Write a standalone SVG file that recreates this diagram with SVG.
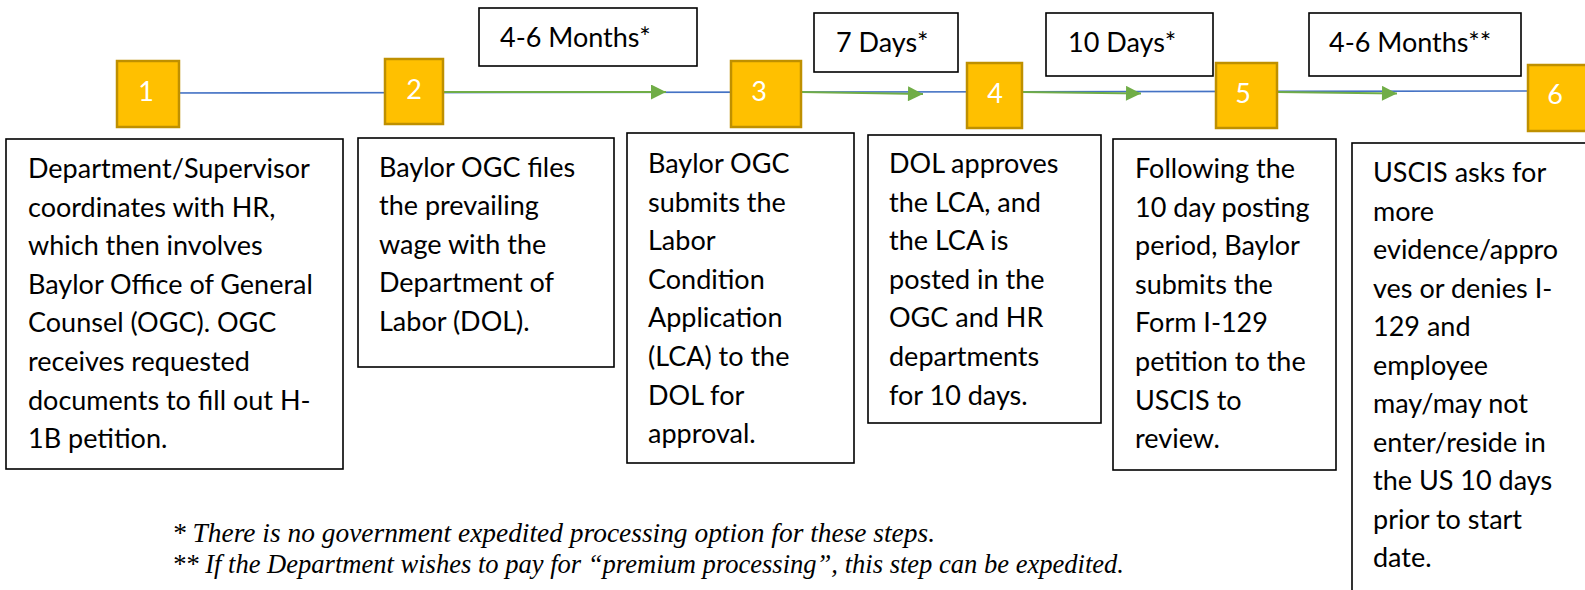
<svg xmlns="http://www.w3.org/2000/svg" width="1585" height="590" viewBox="0 0 1585 590">
<style>
.num{fill:#FFC000;stroke:#BF9000;stroke-width:2.5}
.numt{font-family:Lato,"Liberation Sans",sans-serif;font-size:27px;fill:#FFFFFF;text-anchor:middle}
.box{fill:#FFFFFF;stroke:#000000;stroke-width:1.6}
.t{font-family:Lato,"Liberation Sans",sans-serif;font-size:27px;fill:#000000}
.blue{stroke:#4472C4;stroke-width:1.6;fill:none}
.green{stroke:#70AD47;stroke-width:1.8;fill:none}
.note{font-family:"Liberation Serif",serif;font-style:italic;font-size:27px;fill:#000000}
</style>
<defs>
<marker id="ah" viewBox="0 0 16 16" refX="16" refY="8" markerWidth="16" markerHeight="15" markerUnits="userSpaceOnUse" orient="auto">
<path d="M0,0 L16,8 L0,16 z" fill="#70AD47"/>
</marker>
</defs>
<rect width="1585" height="590" fill="#FFFFFF"/>
<g id="connectors">
<line class="blue" x1="148" y1="93" x2="1555" y2="91"/>
<line class="green" x1="443" y1="92" x2="666" y2="92" marker-end="url(#ah)"/>
<line class="green" x1="801" y1="92" x2="923" y2="94" marker-end="url(#ah)"/>
<line class="green" x1="1022" y1="92" x2="1141" y2="93.5" marker-end="url(#ah)"/>
<line class="green" x1="1277" y1="92" x2="1397" y2="93.5" marker-end="url(#ah)"/>
</g>
<g id="label1"><rect class="box" x="479" y="8" width="218" height="58"/><text class="t" x="500" y="47">4-6 Months*</text></g>
<g id="label2"><rect class="box" x="814" y="13" width="144" height="59"/><text class="t" x="836" y="52">7 Days*</text></g>
<g id="label3"><rect class="box" x="1046" y="13" width="167" height="63"/><text class="t" x="1068" y="52">10 Days*</text></g>
<g id="label4"><rect class="box" x="1309" y="13" width="212" height="63"/><text class="t" x="1329" y="52">4-6 Months**</text></g>
<g id="step1"><rect class="num" x="117" y="61" width="62" height="66"/><text class="numt" x="146" y="101">1</text></g>
<g id="step2"><rect class="num" x="385" y="59" width="58" height="65"/><text class="numt" x="414" y="99">2</text></g>
<g id="step3"><rect class="num" x="731" y="61" width="70" height="66"/><text class="numt" x="759" y="101">3</text></g>
<g id="step4"><rect class="num" x="967" y="63" width="55" height="65"/><text class="numt" x="995" y="103">4</text></g>
<g id="step5"><rect class="num" x="1216" y="63" width="61" height="65"/><text class="numt" x="1243" y="103">5</text></g>
<g id="step6"><rect class="num" x="1528" y="65" width="62" height="66"/><text class="numt" x="1555" y="104">6</text></g>
<g id="desc1"><rect class="box" x="6" y="139" width="337" height="330"/>
<text class="t"><tspan x="28" y="178">Department/Supervisor</tspan><tspan x="28" y="216.6">coordinates with HR,</tspan><tspan x="28" y="255.2">which then involves</tspan><tspan x="28" y="293.8">Baylor Office of General</tspan><tspan x="28" y="332.4">Counsel (OGC). OGC</tspan><tspan x="28" y="371">receives requested</tspan><tspan x="28" y="409.6">documents to fill out H-</tspan><tspan x="28" y="448.2">1B petition.</tspan></text></g>
<g id="desc2"><rect class="box" x="358" y="138" width="256" height="229"/>
<text class="t"><tspan x="379" y="176.5">Baylor OGC files</tspan><tspan x="379" y="215.1">the prevailing</tspan><tspan x="379" y="253.7">wage with the</tspan><tspan x="379" y="292.3">Department of</tspan><tspan x="379" y="330.9">Labor (DOL).</tspan></text></g>
<g id="desc3"><rect class="box" x="627" y="133" width="227" height="330"/>
<text class="t"><tspan x="648" y="173">Baylor OGC</tspan><tspan x="648" y="211.6">submits the</tspan><tspan x="648" y="250.2">Labor</tspan><tspan x="648" y="288.8">Condition</tspan><tspan x="648" y="327.4">Application</tspan><tspan x="648" y="366">(LCA) to the</tspan><tspan x="648" y="404.6">DOL for</tspan><tspan x="648" y="443.2">approval.</tspan></text></g>
<g id="desc4"><rect class="box" x="868" y="135" width="233" height="288"/>
<text class="t"><tspan x="889" y="173">DOL approves</tspan><tspan x="889" y="211.6">the LCA, and</tspan><tspan x="889" y="250.2">the LCA is</tspan><tspan x="889" y="288.8">posted in the</tspan><tspan x="889" y="327.4">OGC and HR</tspan><tspan x="889" y="366">departments</tspan><tspan x="889" y="404.6">for 10 days.</tspan></text></g>
<g id="desc5"><rect class="box" x="1113" y="139" width="223" height="331"/>
<text class="t"><tspan x="1135" y="178">Following the</tspan><tspan x="1135" y="216.6">10 day posting</tspan><tspan x="1135" y="255.2">period, Baylor</tspan><tspan x="1135" y="293.8">submits the</tspan><tspan x="1135" y="332.4">Form I-129</tspan><tspan x="1135" y="371">petition to the</tspan><tspan x="1135" y="409.6">USCIS to</tspan><tspan x="1135" y="448.2">review.</tspan></text></g>
<g id="desc6"><rect class="box" x="1352" y="143" width="260" height="470"/>
<text class="t"><tspan x="1373" y="182">USCIS asks for</tspan><tspan x="1373" y="220.5">more</tspan><tspan x="1373" y="259">evidence/appro</tspan><tspan x="1373" y="297.5">ves or denies I-</tspan><tspan x="1373" y="336">129 and</tspan><tspan x="1373" y="374.5">employee</tspan><tspan x="1373" y="413">may/may not</tspan><tspan x="1373" y="451.5">enter/reside in</tspan><tspan x="1373" y="490">the US 10 days</tspan><tspan x="1373" y="528.5">prior to start</tspan><tspan x="1373" y="567">date.</tspan></text></g>
<g id="notes">
<text class="note" x="172" y="542" textLength="763" lengthAdjust="spacingAndGlyphs">* There is no government expedited processing option for these steps.</text>
<text class="note" x="172" y="573" textLength="952" lengthAdjust="spacingAndGlyphs">** If the Department wishes to pay for “premium processing”, this step can be expedited.</text>
</g>
</svg>
